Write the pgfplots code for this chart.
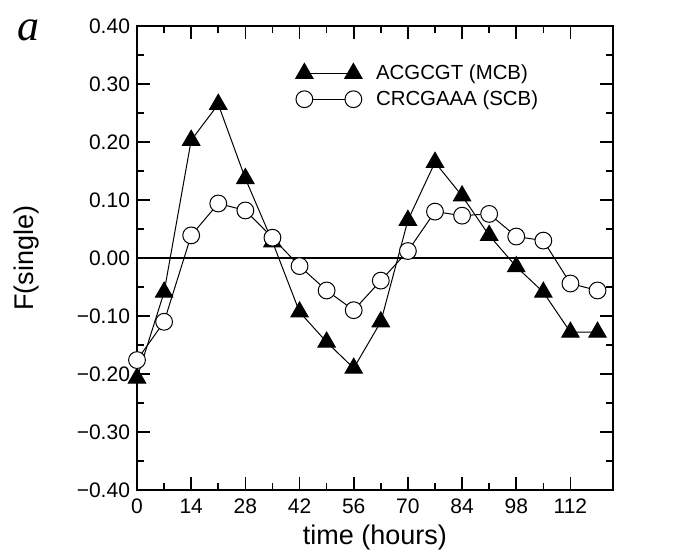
\documentclass[border=0pt]{standalone}
\usepackage{fontspec}
\setmainfont{Liberation Sans}
\newfontfamily\serifit{Liberation Serif}
\usepackage{pgfplots}
\pgfplotsset{compat=1.18}

% F(single) per sampling time (hours)
\pgfplotstableread{
t    mcb     scb
0   -0.207  -0.176
7   -0.059  -0.110
14   0.203   0.039
21   0.265   0.094
28   0.137   0.082
35   0.028   0.035
42  -0.093  -0.014
49  -0.145  -0.056
56  -0.190  -0.090
63  -0.110  -0.039
70   0.065   0.012
77   0.165   0.080
84   0.107   0.073
91   0.039   0.076
98  -0.015   0.037
105 -0.059   0.030
112 -0.128  -0.044
119 -0.128  -0.056
}\fsingle

\begin{document}
\begin{tikzpicture}
\begin{axis}[
  scale only axis, width=238pt, height=232pt,
  xmin=0, xmax=123, ymin=-0.4, ymax=0.4,
  xtick={0,14,...,112}, minor x tick num=1,
  ytick={-0.4,-0.3,-0.2,-0.1,0,0.1,0.2,0.3,0.4}, minor y tick num=1,
  yticklabels={−0.40,−0.30,−0.20,−0.10,0.00,0.10,0.20,0.30,0.40},
  tick align=inside, tick pos=both,
  major tick length=6.5pt, minor tick length=3.5pt,
  axis line style={line width=0.9pt},
  every tick/.style={black, line width=0.8pt},
  /pgf/number format/assume math mode=true,
  tick label style={font=\fontsize{10.5}{12}\selectfont},
  xticklabel style={yshift=-1pt},
  xlabel={time (hours)}, ylabel={F(single)},
  every axis x label/.style={at={(axis description cs:0.5,-0.1034)}, anchor=center,
    font=\fontsize{13.5}{15}\selectfont},
  every axis y label/.style={at={(axis description cs:-0.2311,0.5)}, rotate=90, anchor=center,
    font=\fontsize{13.5}{15}\selectfont},
  legend style={draw=none, fill=none, at={(0.32,0.935)}, anchor=north west,
    font=\fontsize{10.2}{11}\selectfont, row sep=0pt,
    /tikz/every odd column/.append style={column sep=5pt}},
  legend cell align=left,
  legend image code/.code={\draw[#1] plot coordinates {(0pt,0pt) (24.5pt,0pt)};},
  clip=false,
]
\draw[line width=0.7pt] (rel axis cs:0,0.5) -- (rel axis cs:1,0.5);
\addplot[black, line width=0.5pt, mark=triangle*, mark size=5pt,
  mark options={fill=black, solid}] table[x=t, y=mcb] {\fsingle};
\addplot[black, line width=0.5pt, mark=*, mark size=4.2pt,
  mark options={fill=white, solid}] table[x=t, y=scb] {\fsingle};
\legend{ACGCGT (MCB), CRCGAAA (SCB)}
\end{axis}
\node[font=\serifit\itshape\fontsize{22}{24}\selectfont] at (-54pt,230pt) {a};
\pgfresetboundingbox
\path[use as bounding box] (-68.5pt,-32.5pt) rectangle (281.5pt,245pt);
\end{tikzpicture}
\end{document}
